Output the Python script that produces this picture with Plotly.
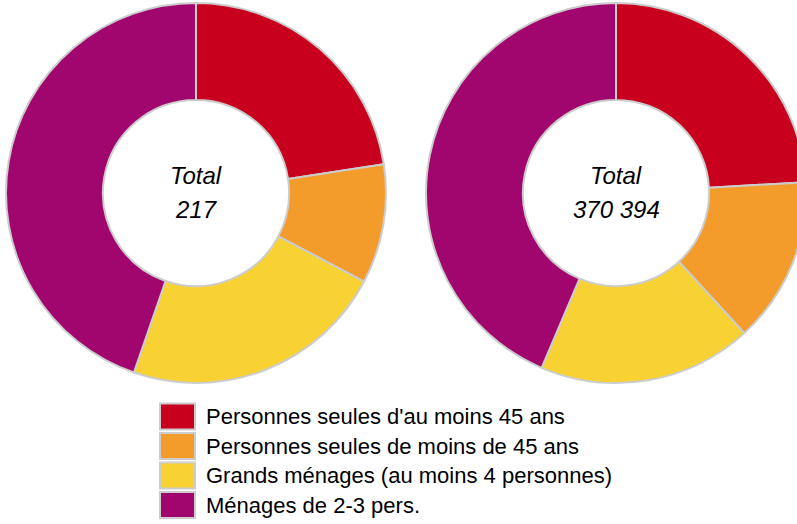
import plotly.graph_objects as go

categories = [
    "Personnes seules d'au moins 45 ans",
    "Personnes seules de moins de 45 ans",
    "Grands ménages (au moins 4 personnes)",
    "Ménages de 2-3 pers.",
]
colors = ["#C8001E", "#F39C2C", "#F8D232", "#A0066E"]
left_values = [49, 22, 49, 97]
right_values = [89265, 52226, 67412, 161491]
center_labels = ["Total", "Total"]
totals = ["217", "370 394"]

W, H = 810, 524
FONT = "Liberation Sans, Arial, sans-serif"

fig = go.Figure()

def pie(values, xd, yd):
    return go.Pie(
        labels=categories, values=values, sort=False, direction="clockwise",
        rotation=0, hole=0.49, textinfo="none", hoverinfo="label+value+percent",
        marker=dict(colors=colors, line=dict(color="#CCCCCC", width=2)),
        domain=dict(x=xd, y=yd), showlegend=False,
    )

# left donut: center (196,193) r=190 ; right donut center (616,193)
fig.add_trace(pie(left_values, [6 / W, 386 / W], [(H - 383) / H, (H - 3) / H]))
fig.add_trace(pie(right_values, [426 / W, 806 / W], [(H - 383) / H, (H - 3) / H]))

annotations = []
for cx, lab, tot in zip([196, 616], center_labels, totals):
    annotations.append(dict(x=cx / W, y=1 - 175 / H, xref="paper", yref="paper",
                             text="<i>%s</i>" % lab, showarrow=False,
                             xanchor="center", yanchor="middle",
                             font=dict(family=FONT, size=24, color="#000")))
    annotations.append(dict(x=cx / W, y=1 - 209 / H, xref="paper", yref="paper",
                             text="<i>%s</i>" % tot, showarrow=False,
                             xanchor="center", yanchor="middle",
                             font=dict(family=FONT, size=24, color="#000")))

shapes = []
row_top = 403.5
pitch = 29.5
for i, (cat, col) in enumerate(zip(categories, colors)):
    y0 = row_top + i * pitch
    y1 = y0 + 26
    shapes.append(dict(type="rect", xref="paper", yref="paper",
                       x0=160 / W, x1=195 / W, y0=1 - y1 / H, y1=1 - y0 / H,
                       fillcolor=col, line=dict(color="#CCCCCC", width=2)))
    annotations.append(dict(x=204 / W, y=1 - (y0 + 13) / H, xref="paper", yref="paper",
                             text=cat, showarrow=False, xanchor="left", yanchor="middle",
                             font=dict(family=FONT, size=22, color="#000")))

fig.update_layout(
    width=W, height=H, margin=dict(l=0, r=0, t=0, b=0),
    paper_bgcolor="white", plot_bgcolor="white",
    annotations=annotations, shapes=shapes,
)

fig.write_html(
    "out.html",
    config={"displayModeBar": False},
    post_script="document.body.style.margin='0';document.body.style.overflow='hidden';",
)
